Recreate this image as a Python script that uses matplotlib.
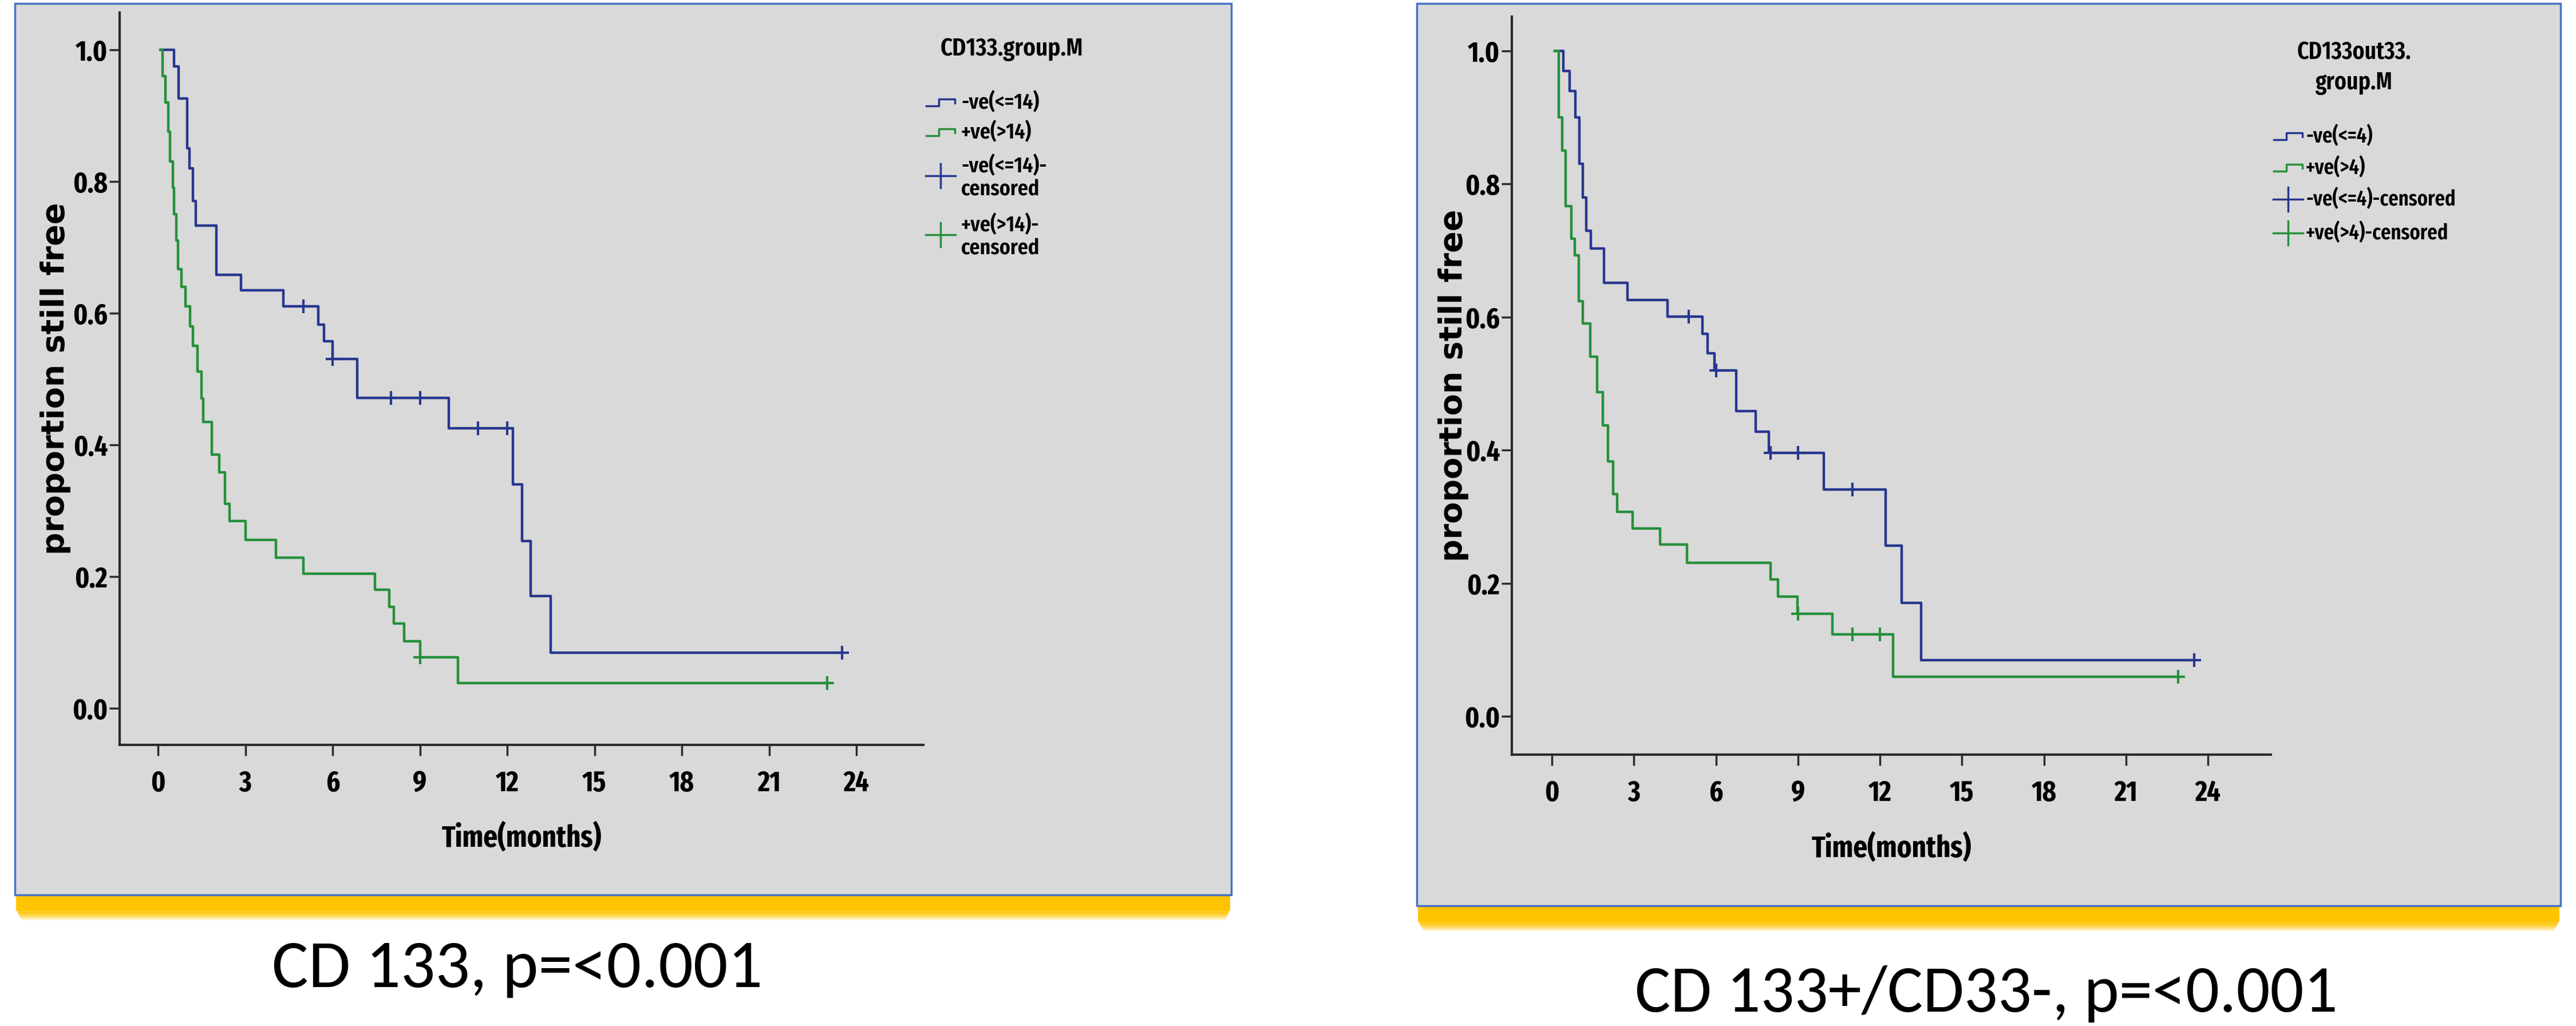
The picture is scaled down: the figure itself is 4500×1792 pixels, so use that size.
import matplotlib
matplotlib.use('Agg')
import matplotlib.pyplot as plt
from matplotlib.patches import Rectangle
from matplotlib.lines import Line2D

W, H = 4500, 1792

# ---- left panel: CD133.group.M ----
lb_t = [0.1, 0.55, 0.7, 1.0, 1.08, 1.2, 1.3, 2.0, 2.85, 4.3, 5.5, 5.7, 6.0, 6.85, 10.0, 12.2, 12.5, 12.8, 13.5, 23.5]
lb_s = [1.0, 0.975, 0.926, 0.85, 0.82, 0.77, 0.733, 0.658, 0.635, 0.61, 0.583, 0.557, 0.53, 0.471, 0.425, 0.34, 0.254, 0.17, 0.084, 0.084]
lb_ct = [5.0, 6.0, 8.0, 9.0, 11.0, 12.0, 23.5]
lb_cs = [0.61, 0.53, 0.471, 0.471, 0.425, 0.425, 0.084]

lg_t = [0.08, 0.15, 0.25, 0.35, 0.42, 0.5, 0.55, 0.62, 0.69, 0.8, 0.95, 1.1, 1.2, 1.35, 1.5, 1.56, 1.85, 2.1, 2.3, 2.45, 3.0, 4.05, 5.0, 7.45, 7.95, 8.1, 8.45, 9.0, 10.3, 23.0]
lg_s = [1.0, 0.96, 0.92, 0.876, 0.83, 0.79, 0.75, 0.71, 0.667, 0.64, 0.61, 0.58, 0.55, 0.511, 0.47, 0.435, 0.385, 0.358, 0.31, 0.284, 0.256, 0.229, 0.204, 0.18, 0.154, 0.129, 0.102, 0.077, 0.038, 0.038]
lg_ct = [9.0, 23.0]
lg_cs = [0.077, 0.038]

# ---- right panel: CD133out33.group.M ----
rb_t = [0.1, 0.42, 0.65, 0.85, 1.0, 1.12, 1.26, 1.43, 1.9, 2.75, 4.23, 5.5, 5.7, 5.95, 6.73, 7.45, 7.93, 9.95, 12.2, 12.8, 13.5, 23.5]
rb_s = [1.0, 0.97, 0.94, 0.9, 0.83, 0.78, 0.73, 0.703, 0.651, 0.626, 0.601, 0.575, 0.546, 0.52, 0.459, 0.428, 0.396, 0.341, 0.256, 0.17, 0.084, 0.084]
rb_ct = [5.0, 6.0, 8.0, 9.0, 11.0, 23.5]
rb_cs = [0.601, 0.52, 0.396, 0.396, 0.341, 0.084]

rg_t = [0.1, 0.25, 0.37, 0.5, 0.7, 0.84, 0.98, 1.12, 1.4, 1.65, 1.85, 2.05, 2.24, 2.38, 2.95, 3.95, 4.93, 7.99, 8.27, 8.97, 10.26, 12.48, 22.9]
rg_s = [1.0, 0.9, 0.85, 0.767, 0.718, 0.693, 0.624, 0.59, 0.54, 0.487, 0.437, 0.383, 0.334, 0.307, 0.282, 0.258, 0.231, 0.206, 0.18, 0.154, 0.123, 0.059, 0.059]
rg_ct = [9.0, 11.0, 12.0, 22.9]
rg_cs = [0.154, 0.123, 0.123, 0.059]

x_ticks = [0, 3, 6, 9, 12, 15, 18, 21, 24]
y_ticks = [0.0, 0.2, 0.4, 0.6, 0.8, 1.0]
y_ticklabels = ['0.0', '0.2', '0.4', '0.6', '0.8', '1.0']

left_legend = ['-ve(<=14)', '+ve(>14)', '-ve(<=14)-\ncensored', '+ve(>14)-\ncensored']
right_legend = ['-ve(<=4)', '+ve(>4)', '-ve(<=4)-censored', '+ve(>4)-censored']

BLUE = '#27378f'
GREEN = '#25903b'
NARROW = ['Fira Sans Extra Condensed', 'DejaVu Sans']


def fx(x):
    return x / W


def fy(y):
    return 1 - y / H


fig = plt.figure(figsize=(45, 17.92), dpi=100, facecolor='white')


def frame(x0, y0, x1, y1):
    # yellow soft shadow under the box
    fig.add_artist(Rectangle((fx(x0 + 2), fy(y1 + 28)), (x1 - x0 - 4) / W, 28.0 / H,
                             transform=fig.transFigure, facecolor='#ffc400',
                             edgecolor='none', linewidth=0, zorder=-6))
    for k in range(16):
        a = 1 - (k + 1) / 17.0
        fig.add_artist(Rectangle((fx(x0 + 4 + k * 0.5), fy(y1 + 30 + k)), (x1 - x0 - 8 - k) / W, 2.0 / H,
                                 transform=fig.transFigure, facecolor='#ffc400',
                                 edgecolor='none', linewidth=0, alpha=a * 0.8, zorder=-6))
    fig.add_artist(Rectangle((fx(x0), fy(y1)), (x1 - x0) / W, (y1 - y0) / H,
                             transform=fig.transFigure, facecolor='#d9d9d9',
                             edgecolor='#4472c4', linewidth=2.5, zorder=-5))


def km_panel(rect, xlim, ylim, curves, ylab_x):
    ax = fig.add_axes(rect)
    ax.set_facecolor('none')
    for t, s, ct, cs, col in curves:
        ax.step(t, s, where='post', color=col, linewidth=3.2)
        ax.plot(ct, cs, linestyle='none', marker='+', markersize=17,
                markeredgewidth=3, color=col)
    ax.set_xlim(*xlim)
    ax.set_ylim(*ylim)
    ax.set_xticks(x_ticks)
    ax.set_yticks(y_ticks)
    ax.set_yticklabels(y_ticklabels)
    for sp in ['top', 'right']:
        ax.spines[sp].set_visible(False)
    for sp in ['left', 'bottom']:
        ax.spines[sp].set_linewidth(3)
        ax.spines[sp].set_color('#2a2a2a')
    ax.tick_params(axis='x', direction='out', length=14, width=2.5, pad=17,
                   color='#2a2a2a')
    ax.tick_params(axis='y', direction='out', length=13, width=2.5, pad=2,
                   color='#2a2a2a')
    for lab in ax.get_xticklabels() + ax.get_yticklabels():
        lab.set_family(NARROW)
        lab.set_fontweight('bold')
        lab.set_fontsize(36)
    ax.text(0.5, -0.127, 'Time(months)', transform=ax.transAxes, ha='center',
            va='center', fontsize=38, fontweight='bold', family=NARROW)
    ax.text(ylab_x, 0.5, 'proportion still free', transform=ax.transAxes,
            rotation=90, ha='center', va='center', fontsize=40,
            fontweight='bold', family='DejaVu Sans')
    return ax


def step_glyph(x0, yc, col):
    xs = [x0, x0 + 22, x0 + 22, x0 + 50, x0 + 50]
    ys = [yc + 6, yc + 6, yc - 6, yc - 6, yc + 1]
    fig.add_artist(Line2D([fx(v) for v in xs], [fy(v) for v in ys],
                          transform=fig.transFigure, color=col, linewidth=2.5))


def plus_glyph(cx, cy, col):
    fig.add_artist(Line2D([fx(cx - 26), fx(cx + 26)], [fy(cy), fy(cy)],
                          transform=fig.transFigure, color=col, linewidth=2.5))
    fig.add_artist(Line2D([fx(cx), fx(cx)], [fy(cy - 21), fy(cy + 21)],
                          transform=fig.transFigure, color=col, linewidth=2.5))


# boxes
frame(26, 6, 2151, 1563)
frame(2475, 6, 4473, 1582)

# left
km_panel([209 / W, 1 - 1301 / H, 1404 / W, 1279 / H], (-1.32, 26.3), (-0.0557, 1.0565),
         [(lb_t, lb_s, lb_ct, lb_cs, BLUE), (lg_t, lg_s, lg_ct, lg_cs, GREEN)], -0.080)
# right
km_panel([2641 / W, 1 - 1318 / H, 1326 / W, 1289 / H], (-1.47, 26.3), (-0.0577, 1.0516),
         [(rb_t, rb_s, rb_ct, rb_cs, BLUE), (rg_t, rg_s, rg_ct, rg_cs, GREEN)], -0.077)

# left legend
fig.text(fx(1767), fy(86), 'CD133.group.M', ha='center', va='center',
         fontsize=32, family=NARROW, fontweight='semibold')
step_glyph(1618, 179, BLUE)
step_glyph(1618, 231, GREEN)
plus_glyph(1643, 307, BLUE)
plus_glyph(1643, 410, GREEN)
fig.text(fx(1679), fy(179), left_legend[0], ha='left', va='center', fontsize=28,
         family=NARROW, fontweight='semibold')
fig.text(fx(1679), fy(231), left_legend[1], ha='left', va='center', fontsize=28,
         family=NARROW, fontweight='semibold')
fig.text(fx(1679), fy(310), left_legend[2], ha='left', va='center', fontsize=28,
         family=NARROW, fontweight='semibold', linespacing=1.1)
fig.text(fx(1679), fy(413), left_legend[3], ha='left', va='center', fontsize=28,
         family=NARROW, fontweight='semibold', linespacing=1.1)

# right legend
fig.text(fx(4112), fy(118), 'CD133out33.\ngroup.M', ha='center', va='center',
         fontsize=31, family=NARROW, fontweight='semibold', linespacing=1.3)
step_glyph(3972, 238, BLUE)
step_glyph(3972, 293, GREEN)
plus_glyph(3997, 348, BLUE)
plus_glyph(3997, 407, GREEN)
for txt, yy in zip(right_legend, [238, 293, 348, 407]):
    fig.text(fx(4028), fy(yy), txt, ha='left', va='center', fontsize=27,
             family=NARROW, fontweight='semibold')

# captions
fig.text(fx(904), fy(1692), 'CD 133, p=<0.001', ha='center', va='center',
         fontsize=86, family='Carlito')
fig.text(fx(3470), fy(1736), 'CD 133+/CD33-, p=<0.001', ha='center', va='center',
         fontsize=84, family='Carlito')

fig.savefig('out.png', dpi=100, facecolor='white')
